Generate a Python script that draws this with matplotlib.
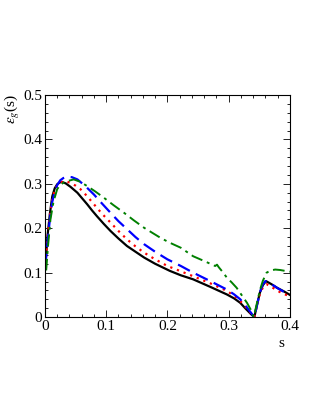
import matplotlib.pyplot as plt
from matplotlib.ticker import MultipleLocator

plt.rcParams['font.family'] = ['Liberation Serif', 'DejaVu Serif']
plt.rcParams['mathtext.fontset'] = 'stix'

# curves
s_black = [0.0, 0.002, 0.004, 0.008, 0.012, 0.016, 0.02, 0.024, 0.028, 0.034, 0.042, 0.053,
           0.061, 0.069, 0.077, 0.085, 0.096, 0.107, 0.12, 0.134, 0.148, 0.162, 0.18, 0.204,
           0.222, 0.242, 0.27, 0.297, 0.309, 0.319, 0.327, 0.332, 0.337, 0.342, 0.346, 0.351,
           0.356, 0.361, 0.37, 0.379, 0.39, 0.4]
y_black = [0.112, 0.14, 0.18, 0.232, 0.272, 0.29, 0.299, 0.303, 0.304, 0.301, 0.293, 0.28,
           0.267, 0.254, 0.24, 0.227, 0.21, 0.194, 0.177, 0.16, 0.147, 0.134, 0.12, 0.104,
           0.094, 0.085, 0.068, 0.051, 0.042, 0.032, 0.02, 0.013, 0.006, 0.0, 0.025, 0.055,
           0.072, 0.081, 0.074, 0.066, 0.058, 0.05]

s_red = [0.0, 0.002, 0.004, 0.008, 0.012, 0.016, 0.02, 0.026, 0.034, 0.042, 0.05, 0.058,
         0.069, 0.08, 0.093, 0.107, 0.12, 0.134, 0.148, 0.162, 0.18, 0.2, 0.222, 0.242,
         0.27, 0.297, 0.309, 0.319, 0.327, 0.333, 0.338, 0.342, 0.346, 0.351, 0.356,
         0.362, 0.37, 0.38, 0.39, 0.4]
y_red = [0.118, 0.14, 0.175, 0.228, 0.265, 0.286, 0.297, 0.304, 0.306, 0.302, 0.296, 0.288,
         0.272, 0.254, 0.233, 0.213, 0.194, 0.175, 0.159, 0.145, 0.13, 0.115, 0.103, 0.092,
         0.076, 0.059, 0.048, 0.036, 0.024, 0.014, 0.006, 0.0, 0.025, 0.052, 0.067,
         0.074, 0.068, 0.059, 0.052, 0.047]

s_blue = [0.0, 0.002, 0.004, 0.008, 0.012, 0.016, 0.02, 0.025, 0.03, 0.036, 0.044, 0.053,
          0.066, 0.08, 0.093, 0.107, 0.12, 0.134, 0.148, 0.162, 0.18, 0.2, 0.222, 0.242,
          0.27, 0.297, 0.309, 0.319, 0.327, 0.333, 0.338, 0.342, 0.346, 0.351, 0.355,
          0.36, 0.37, 0.38, 0.39, 0.4]
y_blue = [0.113, 0.135, 0.165, 0.22, 0.26, 0.283, 0.297, 0.308, 0.313, 0.316, 0.315, 0.31,
          0.295, 0.276, 0.256, 0.235, 0.216, 0.198, 0.18, 0.164, 0.147, 0.13, 0.115, 0.1,
          0.081, 0.062, 0.051, 0.04, 0.027, 0.016, 0.007, 0.0, 0.025, 0.055, 0.072,
          0.081, 0.074, 0.065, 0.057, 0.051]

s_green = [0.002, 0.003, 0.005, 0.009, 0.014, 0.02, 0.025, 0.031, 0.039, 0.047, 0.057,
           0.069, 0.082, 0.096, 0.112, 0.129, 0.145, 0.162, 0.188, 0.203, 0.222, 0.242,
           0.262, 0.278, 0.281, 0.284, 0.29, 0.297, 0.305, 0.313, 0.321, 0.33, 0.336,
           0.341, 0.346, 0.351, 0.356, 0.362, 0.369, 0.376, 0.384, 0.392, 0.4]
y_green = [0.105, 0.123, 0.16, 0.22, 0.26, 0.288, 0.298, 0.303, 0.307, 0.31, 0.305,
           0.295, 0.283, 0.269, 0.252, 0.235, 0.218, 0.201, 0.179, 0.168, 0.156, 0.137,
           0.125, 0.115, 0.118, 0.112, 0.102, 0.089, 0.078, 0.066, 0.05, 0.032, 0.017,
           0.0, 0.03, 0.06, 0.082, 0.1, 0.105, 0.107, 0.106, 0.104, 0.102]

fig = plt.figure(figsize=(3.21, 4.15), dpi=100)
ax = fig.add_axes([0.140, 0.236, 0.763, 0.535])

ax.plot(s_black, y_black, color='black', lw=1.6, ls='-')
ax.plot(s_red, y_red, color='red', lw=1.6, ls=(0, (1, 2.2)))
ax.plot(s_blue, y_blue, color='blue', lw=1.6, ls=(0, (6, 3)))
ax.plot(s_green, y_green, color='green', lw=1.4, ls=(0, (6, 2.5, 1.5, 2.5)))

ax.set_xlim(0, 0.4)
ax.set_ylim(0, 0.5)
ax.xaxis.set_major_locator(MultipleLocator(0.1))
ax.xaxis.set_minor_locator(MultipleLocator(0.02))
ax.yaxis.set_major_locator(MultipleLocator(0.1))
ax.yaxis.set_minor_locator(MultipleLocator(0.02))
fmt = plt.FuncFormatter(lambda v, p: '0' if abs(v) < 1e-9 else f'{v:.1f}')
ax.xaxis.set_major_formatter(fmt)
ax.yaxis.set_major_formatter(fmt)
ax.tick_params(which='both', direction='in', top=True, right=True, labelsize=11, width=0.6)
ax.tick_params(which='major', length=5, pad=2)
ax.tick_params(which='minor', length=2.5)
for sp in ax.spines.values():
    sp.set_linewidth(0.8)

fig.text(281 / 321, 1 - 343 / 415, 's', fontsize=11, ha='center', va='center')
fig.text(12 / 321, 1 - 109 / 415, r'$\varepsilon_g$(s)', fontsize=11, rotation=90,
         ha='center', va='center')

fig.savefig('out.png', dpi=100)
